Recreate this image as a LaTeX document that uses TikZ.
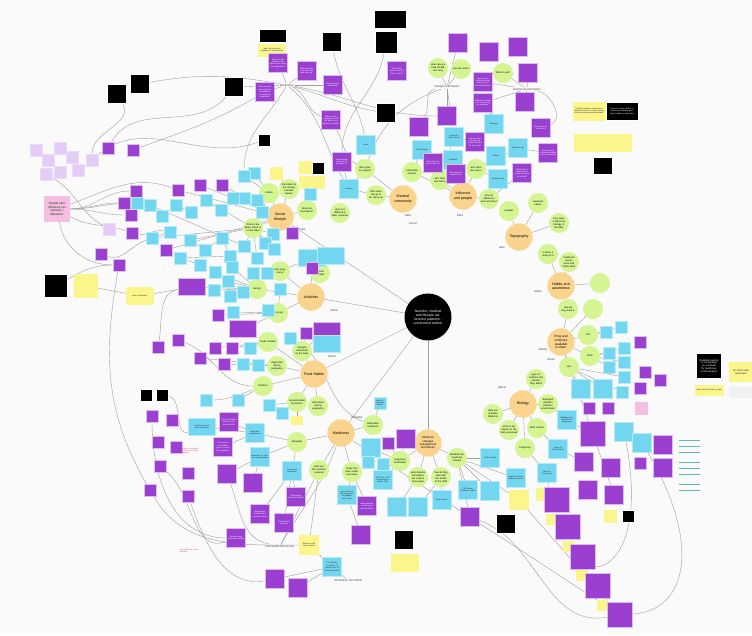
\documentclass[tikz,border=0pt]{standalone}
\usepackage{fontspec}
\setmainfont{Liberation Sans}
\usetikzlibrary{positioning,backgrounds}

\definecolor{bgC}{HTML}{FAFAFA}
\definecolor{hubC}{HTML}{FAD38D}
\definecolor{topicC}{HTML}{D5F593}
\definecolor{qC}{HTML}{9A3FCF}
\definecolor{qB}{HTML}{DCBDF2}
\definecolor{factC}{HTML}{72D6F0}
\definecolor{factB}{HTML}{B5EAF7}
\definecolor{noteC}{HTML}{FBF68C}
\definecolor{pinkC}{HTML}{F6BEE0}
\definecolor{lavC}{HTML}{E3CCF6}
\definecolor{linkC}{HTML}{A0A0A0}
\definecolor{tealC}{HTML}{5DBFA8}
\definecolor{redT}{HTML}{E0407A}

\begin{document}
\begin{tikzpicture}[x=0.03cm, y=-0.03cm,
  core/.style={circle, fill=black, minimum size=1.41cm, inner sep=0pt, text width=1.0cm,
               align=center, text=white, font=\fontsize{2.9}{3.4}\selectfont},
  hub/.style={circle, fill=hubC, minimum size=0.82cm, inner sep=0pt, text width=0.64cm,
              align=center, font=\fontsize{3.1}{3.7}\selectfont},
  topic/.style={circle, fill=topicC, minimum size=0.6cm, inner sep=0pt, text width=0.5cm,
                align=center, font=\fontsize{2.1}{2.5}\selectfont},
  qbox/.style={rectangle, fill=qC, draw=qB, line width=0.45pt, minimum size=0.58cm,
               text width=0.52cm, inner sep=0.6pt, align=center, text=white,
               font=\fontsize{1.7}{2.05}\selectfont},
  fbox/.style={qbox, fill=factC, draw=factB, text=black!85},
  nbox/.style={qbox, fill=noteC, draw=noteC, text=black!85},
  kbox/.style={qbox, fill=black, draw=white, text=white},
  lbox/.style={qbox, fill=lavC, draw=lavC!70!white, text=black!75},
  pbox/.style={qbox, fill=pinkC, draw=pinkC, text=black!85, minimum size=0.75cm,
               text width=0.68cm, font=\fontsize{2.6}{3.1}\selectfont},
  sm/.style={minimum size=0.36cm, text width=0.3cm},
  wd/.style={minimum width=0.8cm, minimum height=0.5cm, text width=0.74cm},
  who/.style={inner sep=0.5pt, font=\fontsize{2.4}{2.8}\selectfont, text=black!75},
  link/.style={draw=linkC, line width=0.35pt},
]
\useasboundingbox (0,0) rectangle (752,635);
\begin{scope}[on background layer]
  \fill[bgC] (0,0) rectangle (752,635);
\end{scope}

% --- Core and hubs ---
\node[core] (core) at (428,317) {Nutrition, medical and lifestyle adherence patterns - uninformed mother};
\node[hub] (hSocial) at (280,217) {Social lifestyle};
\node[hub] (hMedcom) at (403,199) {Medical community};
\node[hub] (hInfl) at (463,196) {Influence and people};
\node[hub] (hTopo) at (519,237) {Topography};
\node[hub] (hHabit) at (561,286) {Habits and awareness};
\node[hub, font=\fontsize{2.7}{3.2}\selectfont] (hProg) at (561,342) {Prog and schemes available to them};
\node[hub] (hBio) at (523,404) {Biology};
\node[hub] (hMeds) at (341,433) {Medicines};
\node[hub, font=\fontsize{2.4}{2.9}\selectfont] (hChange) at (428,443) {Medicine changes management techniques};
\node[hub] (hFood) at (314,374) {Food Habits};
\node[hub] (hAct) at (311,297) {Activities};

% --- Persona and section labels ---
\node[who] (wPollie) at (302,229) {Pollie};
\node[who] (wAisha) at (334,310) {Aisha};
\node[who] (wNisha) at (332,356) {Nisha};
\node[who] (wPriya) at (357,418) {Priyanka};
\node[who] (wEkta) at (408,215) {Ekta};
\node[who] (wPoorvi) at (413,223) {Poorvi};
\node[who] (wEktb) at (460,215) {Ekta};
\node[who] (wAarti) at (502,247) {Aarti};
\node[who] (wIshani) at (538,291) {Ishani};
\node[who] (wRekha) at (543,349) {Rekha};
\node[who] (wIshb) at (551,359) {Ishani};
\node[who] (wBina) at (502,388) {(Bina)};
\node[who] (mMed) at (287,85) {Medication};
\node[who] (mLife) at (447,87) {Lifestyle information};
\node[who] (mNut) at (527,89) {Nutritional information};
\node[who] (mDoc) at (280,546) {Information from doctor};
\node[who] (mNmh) at (348,580) {Information from NMH};

% --- Topics ---
\node[topic] (tCulture) at (269,193) {culture};
\node[topic] (tPercep) at (289,189) {Perception of the society towards women};
\node[topic] (tTaboo) at (307,210) {What are the taboos?};
\node[topic] (tOther) at (340,213) {How is it different in other countries};
\node[topic] (tRoutine) at (253,228) {What is the daily routine of a rural lady?};
\node[topic] (tSupport) at (365,169) {Who goes for support};
\node[topic] (tCheck) at (376,195) {Who does she go to for check-up};
\node[topic] (tSource) at (412,172) {information sources};
\node[topic] (tTalk) at (440,180) {who does she talk to};
\node[topic] (tSay) at (476,169) {who does she say to};
\node[topic] (tHow) at (489,199) {how do influences work at home?};
\node[topic] (tLoad) at (438,68) {How heavy a load should she carry};
\node[topic] (tWork) at (461,69) {can she work?};
\node[topic] (tEat) at (503,73) {What to eat?};
\node[topic] (tWeather) at (509,211) {weather};
\node[topic] (tSeason) at (538,203) {seasonal nature};
\node[topic] (tKids) at (559,223) {How does it affect the biology of the kids};
\node[topic] (tStudy) at (548,254) {Is there a study on it};
\node[topic] (tTrad) at (569,262) {traditional awareness and habits facts};
\node[topic] (tBlankA) at (600,283) {};
\node[topic] (tTrack) at (568,309) {How do they track it};
\node[topic] (tBlankB) at (593,309) {};
\node[topic] (tPHI) at (588,335) {PHI};
\node[topic] (tNGO) at (590,356) {NGO};
\node[topic] (tGov) at (569,367) {Gov};
\node[topic] (tTypes) at (536,379) {types of nutrition and vitamins they affect};
\node[topic] (tMut) at (548,404) {biological mutation linked to environment};
\node[topic] (tLimit) at (493,414) {what are activities limited to};
\node[topic] (tImpact) at (509,430) {when is the impact on the baby assessed};
\node[topic] (tBirth) at (537,428) {Birth Control};
\node[topic] (tPreg) at (525,448) {Pregnancy};
\node[topic] (tAllo) at (297,442) {Allopathy};
\node[topic] (tAlt) at (373,425) {Alternative medicines};
\node[topic] (tVacc) at (319,470) {what are the vaccines required};
\node[topic] (tFoodMed) at (352,472) {foods that have medicinal value};
\node[topic] (tTerm) at (400,461) {Pregnancy termination};
\node[topic] (tHosp) at (418,477) {what hospital techniques are used in rural areas};
\node[topic] (tHowdo) at (441,477) {how do they deal with the health of the child};
\node[topic] (tMand) at (457,458) {Mandate fee treatment scheme};
\node[topic] (tPost) at (280,271) {post pregnancy};
\node[topic] (tObj) at (320,273) {objects needed};
\node[topic] (tDuring) at (257,289) {during};
\node[topic] (tPre) at (278,313) {pre preg};
\node[topic] (tFoods) at (268,342) {foods needed};
\node[topic] (tChg) at (302,351) {changes influenced by the baby};
\node[topic] (tStaple) at (277,366) {staple diet during pregnancy};
\node[topic] (tNutri) at (263,386) {Nutrition};
\node[topic] (tRecom) at (297,402) {recommended by doctors};
\node[topic] (tRestr) at (318,406) {restrictions during pregnancy};

% --- Medication and lifestyle questions ---
\node[kbox, wd, minimum height=0.39cm] (k1) at (273,36) {};
\node[nbox, wd, minimum height=0.36cm] (n1) at (272,50) {Idea of stocking up supplies for emergencies};
\node[kbox] (k2) at (332,42) {};
\node[kbox, minimum width=0.96cm, minimum height=0.54cm, text width=0.9cm] (k3) at (390,19) {};
\node[kbox, minimum size=0.66cm] (k4) at (386,42) {};
\node[kbox] (k5) at (234,87) {};
\node[kbox] (k6) at (140,84) {};
\node[kbox] (k7) at (117,94) {};
\node[qbox] (q1) at (278,63) {What are the common side effects from taking the medication?};
\node[qbox] (q2) at (307,71) {Which medication does she take and why?};
\node[qbox] (q3) at (333,85) {Who buys the medication?};
\node[qbox] (q4) at (265,92) {How does the nurse give the medications for taking the medication?};
\node[qbox] (q5) at (397,71) {What other advice does the doctor share?};
\node[qbox] (q6) at (331,120) {What are the supplements that the doctor has asked her to take?};
\node[kbox] (k8) at (386,113) {};
\node[qbox] (q7) at (419,127) {};
\node[qbox] (q8) at (447,116) {};
\node[fbox] (f1) at (366,145) {Nurse};
\node[kbox, sm] (k9) at (264,140) {};
\node[qbox] (q9) at (458,43) {};
\node[qbox] (q10) at (489,52) {};
\node[qbox] (q11) at (518,47) {};
\node[qbox] (q12) at (528,73) {};
\node[qbox] (q13) at (483,82) {How does a working woman make time for rest and nutrition?};
\node[qbox] (q14) at (483,103) {What kind of help can she get from her employer?};
\node[qbox] (q15) at (525,102) {};
\node[qbox] (q16) at (541,128) {Who shops for her needs?};
\node[fbox] (f2) at (494,124) {Employer};
\node[fbox] (f3) at (454,137) {Trusted Female relative};
\node[qbox] (q17) at (475,142) {How does she manage the budget needed for the extra?};
\node[fbox] (f4) at (518,148) {Father in law};
\node[qbox] (q18) at (548,153) {How does the homestead adapt to her pregnancy?};
\node[nbox, minimum width=0.96cm, minimum height=0.54cm, text width=0.9cm] (n2) at (589,111) {Conflicts between cultural and medical practices increase during delivery and postpartum periods};
\node[kbox, minimum width=0.96cm, minimum height=0.54cm, text width=0.9cm] (k10) at (622,111) {There is a clear conflict in cultural and medical practices in different trimesters};
\node[nbox, minimum size=0.5cm] (n3) at (584,143) {};
\node[nbox, minimum size=0.5cm] (n4) at (603,143) {};
\node[nbox, minimum size=0.5cm] (n5) at (622,143) {};
\node[kbox, minimum size=0.52cm] (k11) at (603,166) {};

% --- Influence and medical community ---
\node[fbox] (f5) at (422,150) {Asha Worker};
\node[qbox] (q19) at (433,163) {Who does she want to talk to?};
\node[fbox] (f6) at (453,160) {Husband};
\node[qbox] (q20) at (456,174) {What does the husband do?};
\node[fbox] (f7) at (496,156) {Mother};
\node[qbox] (q21) at (522,173) {What kind of support does she get at home for the kid?};
\node[fbox] (f8) at (498,179) {Mother in law};
\node[fbox] (f9) at (349,189) {Doctors};
\node[qbox] (q22) at (342,162) {Who decides which doctor she goes to?};
\node[kbox, sm] (k12) at (318,168) {};
\node[nbox, sm] (n6) at (305,167) {};
\node[nbox, sm] (n7) at (305,182) {};
\node[nbox, sm] (n8) at (318,182) {};
\node[nbox, sm] (n9) at (276,173) {};
\node[fbox, sm] (f10) at (310,194) {};
\node[fbox, wd] (f11) at (312,258) {};
\node[fbox, wd] (f12) at (331,256) {};

% --- People who influence her ---
\node[pbox] (pInfl) at (57,209) {People who influence her opinions / behaviour};
\foreach \x/\y [count=\i] in {36/150,48/160,60/148,72/157,46/174,60/172,78/170,92/160,109/229}
  \node[lbox, sm] (lv\i) at (\x,\y) {};
\foreach \x/\y [count=\i] in {108/148,133/150,136/191,124/203,131/215,132/233,101/254,119/265}
  \node[qbox, sm] (lp\i) at (\x,\y) {};
\node[fbox, sm] (f13) at (137,203) {};
\node[kbox, minimum size=0.68cm] (k13) at (56,286) {};
\node[nbox, minimum size=0.68cm] (n10) at (86,286) {};
\node[nbox, wd] (n11) at (140,296) {lack of transport};

% --- Social lifestyle cluster ---
\foreach \x/\y [count=\i] in {254/173,257/200,262/212,273/234,265/243,274/249,257/258,244/176,
    244/198,244/246,150/205,162/216,176/205,191/212,206/200,221/210,233/198,152/238,170/232,
    190/240,205/250,222/238,230/256,180/258,200/265}
  \node[fbox, sm] (sb\i) at (\x,\y) {};
\foreach \x/\y [count=\i] in {292/233,200/185,222/185,178/190,166/250}
  \node[qbox, sm] (sp\i) at (\x,\y) {};

% --- Activities cluster ---
\node[qbox, wd] (q23) at (192,287) {};
\foreach \x/\y [count=\i] in {215/272,232/267,228/281,230/296,243/292,253/273,267/273,214/290,
    280/289,233/312,268/310,250/348,243/364,258/365,290/338}
  \node[fbox, sm] (ab\i) at (\x,\y) {};
\foreach \x/\y [count=\i] in {312/268,218/315,215/348,232/348,200/358,224/364,306/333}
  \node[qbox, sm] (ap\i) at (\x,\y) {};
\node[qbox, wd] (q24) at (243,329) {};
\node[qbox, wd] (q25) at (327,331) {};
\node[fbox, wd] (f14) at (327,344) {};

% --- Left lower cluster ---
\foreach \x/\y [count=\i] in {158/347,178/340,152/416,172/420,158/442,176/447,160/466,150/490,188/473,188/496}
  \node[qbox, sm] (dp\i) at (\x,\y) {};
\node[kbox, sm] (k14) at (146,395) {};
\node[kbox, sm] (k15) at (162,395) {};
\node[fbox, sm] (f15) at (206,400) {};
\node[fbox, sm] (f16) at (238,400) {};
\node[fbox, sm] (f17) at (269,405) {};
\node[fbox, sm] (f18) at (282,413) {};
\node[nbox, sm, minimum size=0.25cm] (n12) at (297,420) {};
\node[text=redT, font=\fontsize{1.7}{2.05}\selectfont, text width=0.6cm, align=left] (r1) at (190,451) {A woman is advised to eat for two during pregnancy};
\node[text=redT, font=\fontsize{1.7}{2.05}\selectfont, text width=0.6cm, align=left] (r2) at (190,551) {Iron tablets are often skipped};

% --- Medicines cluster ---
\node[qbox] (q26) at (229,422) {Folic acid tablets taken for first three months};
\node[fbox, wd] (f19) at (202,427) {Timelines for certain meals exist};
\node[fbox] (f20) at (255,433) {Must take supplements};
\node[fbox] (f21) at (260,457) {Medicines for common complications};
\node[qbox] (q27) at (223,447) {Iron and calcium tablets given for rest of the pregnancy};
\node[qbox] (q28) at (227,474) {};
\node[qbox] (q29) at (253,483) {};
\node[fbox] (f22) at (292,471) {Must avoid medicines};
\node[qbox] (q30) at (296,497) {Chloroquine must be avoided};
\node[qbox] (q31) at (260,514) {High doses of pain killers cannot be taken};
\node[qbox] (q32) at (284,523) {Oral diabetic medicine};
\node[qbox] (q33) at (236,538) {Certain meals should be avoided};
\node[nbox] (n13) at (309,545) {Tetanus is the vaccine taken};
\node[fbox] (f23) at (332,567) {It is advised to replace TT vaccine with Td vaccine by WHO};
\node[qbox] (q34) at (275,579) {};
\node[qbox] (q35) at (298,588) {};
\node[fbox] (f24) at (347,495) {Iron rich food like leafy green vegetables are a must};
\node[qbox] (q36) at (367,506) {Balanced diet is what most doctors advise};
\node[qbox] (q37) at (361,535) {};
\node[fbox, sm] (f25) at (380,403) {Homeo / ayurvedic drugs?};
\node[fbox] (f26) at (371,448) {};
\node[qbox, sm] (q38) at (388,443) {};
\node[qbox] (q39) at (406,439) {};
\node[fbox, sm] (f27) at (368,462) {};
\node[fbox, sm] (f28) at (383,464) {};
\node[fbox] (f29) at (383,480) {MTP Act, 1971 Amendment in March, 2021};
\node[fbox] (f30) at (397,507) {};
\node[fbox] (f31) at (418,507) {};
\node[kbox] (k16) at (404,540) {};
\node[nbox, wd] (n14) at (405,563) {};

% --- Schemes and biology cluster ---
\node[fbox] (f32) at (490,458) {JSSK scheme};
\node[fbox] (f33) at (468,490) {JSY Janani Suraksha Yojana};
\node[fbox] (f34) at (490,491) {};
\node[fbox] (f35) at (516,478) {Helpline and ambulance services};
\node[nbox] (n15) at (519,500) {};
\node[qbox] (q40) at (470,517) {};
\node[kbox] (k17) at (506,524) {};
\node[fbox] (f36) at (442,500) {They can be...};
\node[fbox] (f37) at (567,420) {Radiation having effect on pregnancy};
\node[qbox, minimum size=0.75cm] (q41) at (593,434) {};
\node[fbox] (f38) at (558,449) {Types of Birth Method};
\node[qbox] (q42) at (584,462) {};
\node[qbox] (q43) at (611,468) {};
\node[fbox] (f39) at (547,473) {Ideas for Pregnancy};
\node[fbox] (f40) at (624,432) {};
\node[qbox] (q44) at (588,490) {};
\node[qbox] (q45) at (614,495) {};
\node[nbox, sm] (n16) at (542,494) {};
\node[qbox, minimum size=0.75cm] (q46) at (557,500) {};
\node[nbox, sm] (n17) at (610,516) {};
\node[kbox, sm] (k18) at (628,516) {};
\node[nbox, sm, minimum size=0.3cm] (n18) at (552,519) {};
\node[qbox, minimum size=0.75cm] (q47) at (568,527) {};
\node[nbox, sm, minimum size=0.3cm] (n19) at (569,546) {};
\node[qbox, minimum size=0.75cm] (q48) at (583,557) {};
\node[nbox, sm, minimum size=0.3cm] (n20) at (582,575) {};
\node[qbox, minimum size=0.75cm] (q49) at (598,586) {};
\node[nbox, sm, minimum size=0.3cm] (n21) at (603,605) {};
\node[qbox, minimum size=0.75cm] (q50) at (620,615) {};
\node[fbox] (f41) at (642,443) {};
\node[qbox] (q51) at (663,445) {};
\node[qbox] (q52) at (663,468) {};
\foreach \x/\y [count=\i] in {606/332,621/327,609/353,624/348,609/367,624/362,624/377,622/392}
  \node[fbox, sm] (pb\i) at (\x,\y) {};
\node[fbox] (f42) at (581,389) {};
\node[fbox] (f43) at (603,389) {};
\foreach \x/\y [count=\i] in {640/342,640/388,589/408,608/408,645/372,660/380,640/463}
  \node[qbox, sm] (pp\i) at (\x,\y) {};
\node[qbox, sm, fill=pinkC, draw=pinkC] (pk1) at (641,408) {};
\foreach \y in {440,446,452,462,468,474,484,490}
  \fill[tealC] (679,\y) rectangle (700,\y+1.3);

% --- Right margin notes ---
\node[kbox, minimum size=0.75cm, font=\fontsize{2.1}{2.5}\selectfont, text width=0.66cm] (k19) at (709,366) {Reading material is not working as a channel for healthcare communication};
\node[nbox, minimum width=0.7cm, minimum height=0.57cm, font=\fontsize{2.1}{2.5}\selectfont] (n22) at (741,372) {No action after awareness};
\node[nbox, minimum width=0.84cm, minimum height=0.3cm, text width=0.8cm] (n23) at (709,390) {Does not know how to read};
\node[qbox, fill=gray!12, draw=gray!12, text=black!60, minimum width=0.7cm, minimum height=0.3cm] (g1) at (741,392) {};

% --- Connectors ---
\begin{scope}[on background layer]
  \draw[link] (core) -- (hSocial);
  \draw[link] (core) -- (hAct);
  \draw[link] (core) -- (hFood);
  \draw[link] (core) -- (hMeds);
  \draw[link] (core) -- (hChange);
  \foreach \t in {tCulture,tPercep,tTaboo,tRoutine} \draw[link] (hSocial) -- (\t);
  \foreach \t in {tSupport,tCheck} \draw[link] (hMedcom) -- (\t);
  \foreach \t in {tSource,tTalk,tSay,tHow} \draw[link] (hInfl) -- (\t);
  \foreach \t in {tWeather,tSeason,tKids} \draw[link] (hTopo) -- (\t);
  \foreach \t in {tStudy,tTrad,tBlankA} \draw[link] (hHabit) -- (\t);
  \foreach \t in {tTrack,tBlankB,tPHI,tNGO,tGov} \draw[link] (hProg) -- (\t);
  \foreach \t in {tTypes,tMut,tLimit,tImpact,tBirth,tPreg} \draw[link] (hBio) -- (\t);
  \foreach \t in {tAllo,tAlt,tVacc,tFoodMed} \draw[link] (hMeds) -- (\t);
  \foreach \t in {tTerm,tHosp,tHowdo,tMand} \draw[link] (hChange) -- (\t);
  \foreach \t in {tPost,tObj,tDuring,tPre} \draw[link] (hAct) -- (\t);
  \foreach \t in {tFoods,tChg,tStaple,tNutri,tRecom,tRestr} \draw[link] (hFood) -- (\t);
  % medicines
  \foreach \b in {f20,f21,f22} \draw[link] (tAllo) -- (\b);
  \foreach \b in {q26,q27,f19} \draw[link] (f20) -- (\b);
  \foreach \b in {q28,q29} \draw[link] (f21) -- (\b);
  \foreach \b in {q30,q31,q32} \draw[link] (f22) -- (\b);
  \draw[link] (tVacc) -- (n13);
  \draw[link] (tVacc) -- (mDoc);
  \draw[link] (n13) -- (f23);
  \foreach \b in {q34,q35} \draw[link] (f23) -- (\b);
  \foreach \b in {f24,q36} \draw[link] (tFoodMed) -- (\b);
  \draw[link] (f24) -- (q37);
  \draw[link] (tAlt) -- (f25);
  \foreach \b in {f26,q38,q39,f27,f28,f29} \draw[link] (tTerm) -- (\b);
  \draw[link] (tHosp) -- (f30);
  \draw[link] (tHowdo) -- (f31);
  \draw[link] (tHowdo) -- (f36);
  \foreach \b in {f32,f33,f34,f35,q40} \draw[link] (tMand) -- (\b);
  \draw[link] (tMand) -- (n15);
  \draw[link] (hMeds) -- (q50);
  \draw[link] (q40) to[out=-20,in=190] (q50);
  \draw[link] (n15) -- (q50);
  \draw[link] (hProg) -- (q45);
  % biology and schemes
  \draw[link] (tBirth) -- (f38);
  \draw[link] (f38) -- (q42);
  \draw[link] (tPreg) -- (f39);
  \draw[link] (tMut) -- (f37);
  \draw[link] (f37) -- (q41);
  \foreach \b in {pb1,pb2} \draw[link] (tPHI) -- (\b);
  \foreach \b in {pb3,pb4,pb5,pb6} \draw[link] (tNGO) -- (\b);
  \foreach \b in {f42,f43,pb7,pb8} \draw[link] (tGov) -- (\b);
  \draw[link] (f39) .. controls (560,610) and (655,590) .. (f40);
  \draw[link] (f41) .. controls (700,540) and (690,610) .. (q50);
  \foreach \a/\b in {n16/q46,n18/q47,n19/q48,n20/q49,n21/q50} \draw[link] (\a) -- (\b);
  % influence and people
  \foreach \b in {f5,f6,f3,q19} \draw[link] (tTalk) -- (\b);
  \foreach \b in {f7,f8,f4,q20} \draw[link] (tSay) -- (\b);
  \draw[link] (tSource) -- (f5);
  \draw[link] (tHow) -- (q21);
  \draw[link] (tSupport) -- (f9);
  \draw[link] (f9) -- (q22);
  \draw[link] (tCheck) -- (f9);
  % lifestyle information
  \foreach \b in {q1,q2,q3,q4,k5} \draw[link] (mMed) -- (\b);
  \draw[link] (mMed) to[out=-20,in=160] (q6);
  \draw[link] (mMed) to[out=-15,in=170] (k8);
  \draw[link] (mMed) to[out=-10,in=180] (q8);
  \draw[link] (mMed) to[out=-40,in=120] (f9);
  \draw[link] (mMed) to[out=-120,in=90] (sb8);
  \draw[link] (k2) to[out=-80,in=100] (f1);
  \draw[link] (k4) to[out=-100,in=90] (q22);
  \foreach \b in {q8,q9,f3,tLoad,tWork} \draw[link] (mLife) -- (\b);
  \draw[link] (mLife) to[out=190,in=60] (q7);
  \draw[link] (mLife) to[out=200,in=70] (tSupport);
  \foreach \b in {q13,q14,q15,tEat,q12} \draw[link] (mNut) -- (\b);
  \draw[link] (mNut) to[out=-10,in=20] (q16);
  \draw[link] (q14) to[out=-60,in=100] (f2);
  \draw[link] (q17) -- (f3);
  \draw[link] (q18) -- (f4);
  % people who influence her
  \foreach \b in {lp3,lp4,f13,lp5} \draw[link] (pInfl.east) to[out=0,in=180] (\b);
  \draw[link] (pInfl) to[out=-80,in=180] (lp8);
  \draw[link] (pInfl) to[out=-30,in=160] (lp6);
  \draw[link] (pInfl) to[out=20,in=160] (sp4);
  \draw[link] (lv8) to[out=40,in=200] (k9);
  \draw[link] (lp2) to[out=20,in=210] (q4);
  \draw[link] (lp1) to[out=60,in=230] (k5);
  \draw[link] (k6) to[out=10,in=170] (mMed);
  \draw[link] (k7) to[out=-60,in=90] (lv8);
  \draw[link] (lv5) to[out=-30,in=150] (lv9);
  \draw[link] (lp7) to[out=-20,in=200] (sb18);
  \draw[link] (n10) -- (n11);
  \draw[link] (n11) -- (q23);
  \draw[link] (lp6) to[out=-10,in=170] (sb19);
  % social lifestyle and activities
  \foreach \i in {1,2,3,8,9} \draw[link] (tCulture) -- (sb\i);
  \foreach \i in {4,5,6,7,10,15,18,20} \draw[link] (tRoutine) -- (sb\i);
  \foreach \i in {11,12,13,14,16,17,19,21,22,23,24,25} \draw[link] (sb\i) -- (sb\the\numexpr\i-1\relax);
  \foreach \i in {1,...,5} \draw[link] (hSocial) -- (sp\i);
  \draw[link] (tPercep) -- (n9);
  \draw[link] (tTaboo) -- (f10);
  \draw[link] (tPost) -- (f11);
  \draw[link] (tObj) -- (f12);
  \foreach \i in {1,...,8} \draw[link] (tDuring) -- (ab\i);
  \draw[link] (tDuring) -- (q23);
  \foreach \b in {ab9,ab10,ab11,ap2,q24} \draw[link] (tPre) -- (\b);
  \foreach \b in {ap3,ap4,ab12} \draw[link] (tFoods) -- (\b);
  \foreach \b in {ap5,ap6,ab13,ab14} \draw[link] (tStaple) -- (\b);
  \foreach \b in {ab15,ap7,q25,f14} \draw[link] (tChg) -- (\b);
  \draw[link] (hAct) -- (ap1);
  \foreach \b in {f17,f18,n12} \draw[link] (tRecom) -- (\b);
  \draw[link] (tNutri) -- (f16);
  \draw[link] (tNutri) to[out=200,in=0] (f15);
  % long arcs
  \draw[link] (q23) to[out=190,in=80] (dp1);
  \draw[link] (dp2) to[out=-20,in=180] (tNutri);
  \draw[link] (k15) to[out=-10,in=200] (f19);
  \draw[link] (dp8) to[out=-60,in=180] (n13);
  \draw[link] (dp7) to[out=-40,in=200] (q33);
  \draw[link] (dp10) to[out=-70,in=190] (q34);
  \draw[link] (dp3) to[out=-90,in=180] (q33);
  \draw[link] (lp8) to[out=-100,in=120] (dp8);
  \draw[link] (q28) to[out=-70,in=170] (mDoc);
  \draw[link] (hMeds) to[out=-110,in=60] (mDoc);
  \draw[link] (f23) -- (mNmh);
  \draw[link] (tAlt) to[out=160,in=-30] (ab15);
  \draw[link] (tSupport) to[out=150,in=-60] (q6);
  \draw[link] (k13) to[out=30,in=180] (lp8);
\end{scope}
\end{tikzpicture}
\end{document}
